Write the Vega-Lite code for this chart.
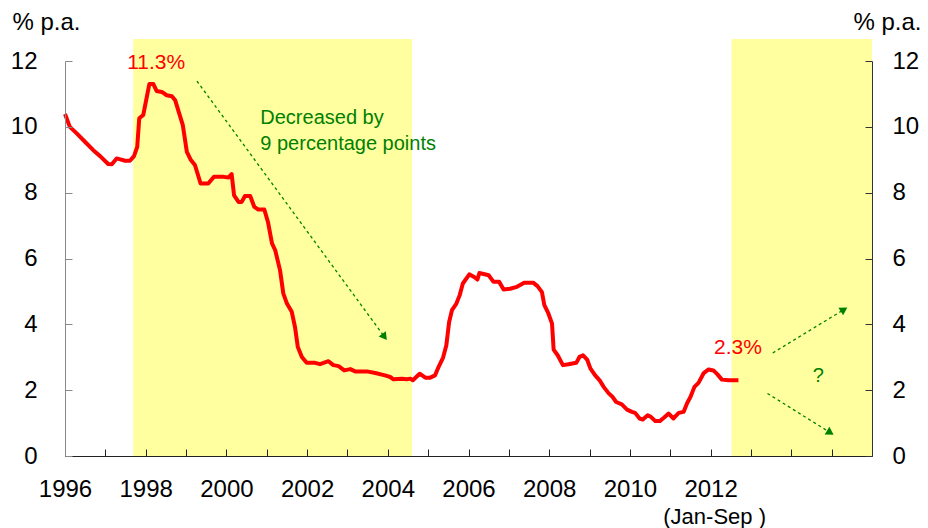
{
  "$schema": "https://vega.github.io/schema/vega-lite/v6.json",
  "width": 807,
  "height": 395,
  "autosize": "none",
  "padding": {"left": 65, "top": 61, "right": 56, "bottom": 72},
  "background": "white",
  "config": {
    "view": {"stroke": null},
    "font": "Liberation Sans",
    "axis": {"labelFont": "Liberation Sans", "titleFont": "Liberation Sans"}
  },
  "datasets": {
    "rates": [
      {"year": 1996.0, "rate": 10.39}, {"year": 1996.12, "rate": 10.0}, {"year": 1996.29, "rate": 9.8}, {"year": 1996.5, "rate": 9.54},
      {"year": 1996.7, "rate": 9.29}, {"year": 1996.87, "rate": 9.11}, {"year": 1997.07, "rate": 8.87}, {"year": 1997.16, "rate": 8.86},
      {"year": 1997.28, "rate": 9.04}, {"year": 1997.49, "rate": 8.97}, {"year": 1997.61, "rate": 8.97}, {"year": 1997.71, "rate": 9.11},
      {"year": 1997.79, "rate": 9.39}, {"year": 1997.84, "rate": 10.26}, {"year": 1997.94, "rate": 10.36}, {"year": 1998.09, "rate": 11.3},
      {"year": 1998.19, "rate": 11.3}, {"year": 1998.27, "rate": 11.09}, {"year": 1998.4, "rate": 11.06}, {"year": 1998.52, "rate": 10.96},
      {"year": 1998.65, "rate": 10.93}, {"year": 1998.73, "rate": 10.81}, {"year": 1998.83, "rate": 10.41}, {"year": 1998.92, "rate": 10.05},
      {"year": 1999.02, "rate": 9.24}, {"year": 1999.12, "rate": 8.99}, {"year": 1999.22, "rate": 8.84}, {"year": 1999.36, "rate": 8.28},
      {"year": 1999.55, "rate": 8.28}, {"year": 1999.69, "rate": 8.48}, {"year": 1999.93, "rate": 8.48}, {"year": 2000.05, "rate": 8.46},
      {"year": 2000.13, "rate": 8.56}, {"year": 2000.19, "rate": 7.92}, {"year": 2000.3, "rate": 7.72}, {"year": 2000.38, "rate": 7.72},
      {"year": 2000.46, "rate": 7.9}, {"year": 2000.59, "rate": 7.9}, {"year": 2000.69, "rate": 7.57}, {"year": 2000.79, "rate": 7.49},
      {"year": 2000.94, "rate": 7.49}, {"year": 2001.03, "rate": 7.11}, {"year": 2001.13, "rate": 6.46}, {"year": 2001.21, "rate": 6.25},
      {"year": 2001.33, "rate": 5.64}, {"year": 2001.41, "rate": 4.94}, {"year": 2001.5, "rate": 4.63}, {"year": 2001.62, "rate": 4.38},
      {"year": 2001.7, "rate": 3.92}, {"year": 2001.77, "rate": 3.31}, {"year": 2001.87, "rate": 3.01}, {"year": 2001.99, "rate": 2.83},
      {"year": 2002.2, "rate": 2.83}, {"year": 2002.32, "rate": 2.79}, {"year": 2002.53, "rate": 2.88}, {"year": 2002.65, "rate": 2.76},
      {"year": 2002.78, "rate": 2.73}, {"year": 2002.92, "rate": 2.6}, {"year": 2003.07, "rate": 2.64}, {"year": 2003.19, "rate": 2.57},
      {"year": 2003.48, "rate": 2.57}, {"year": 2003.69, "rate": 2.52}, {"year": 2003.93, "rate": 2.45}, {"year": 2004.06, "rate": 2.4},
      {"year": 2004.14, "rate": 2.33}, {"year": 2004.35, "rate": 2.35}, {"year": 2004.47, "rate": 2.33}, {"year": 2004.56, "rate": 2.35},
      {"year": 2004.62, "rate": 2.3}, {"year": 2004.79, "rate": 2.5}, {"year": 2004.93, "rate": 2.38}, {"year": 2005.05, "rate": 2.38},
      {"year": 2005.17, "rate": 2.45}, {"year": 2005.26, "rate": 2.71}, {"year": 2005.37, "rate": 2.99}, {"year": 2005.45, "rate": 3.36},
      {"year": 2005.52, "rate": 4.07}, {"year": 2005.59, "rate": 4.43}, {"year": 2005.7, "rate": 4.63}, {"year": 2005.78, "rate": 4.88},
      {"year": 2005.86, "rate": 5.24}, {"year": 2006.02, "rate": 5.52}, {"year": 2006.14, "rate": 5.44}, {"year": 2006.22, "rate": 5.36},
      {"year": 2006.27, "rate": 5.56}, {"year": 2006.5, "rate": 5.49}, {"year": 2006.62, "rate": 5.29}, {"year": 2006.76, "rate": 5.29},
      {"year": 2006.87, "rate": 5.06}, {"year": 2007.03, "rate": 5.08}, {"year": 2007.2, "rate": 5.14}, {"year": 2007.38, "rate": 5.26},
      {"year": 2007.61, "rate": 5.26}, {"year": 2007.71, "rate": 5.16}, {"year": 2007.82, "rate": 4.98}, {"year": 2007.88, "rate": 4.58},
      {"year": 2007.98, "rate": 4.33}, {"year": 2008.07, "rate": 4.02}, {"year": 2008.11, "rate": 3.23}, {"year": 2008.21, "rate": 3.06},
      {"year": 2008.34, "rate": 2.76}, {"year": 2008.48, "rate": 2.79}, {"year": 2008.67, "rate": 2.83}, {"year": 2008.75, "rate": 3.01},
      {"year": 2008.84, "rate": 3.06}, {"year": 2008.94, "rate": 2.93}, {"year": 2009.02, "rate": 2.66}, {"year": 2009.14, "rate": 2.45},
      {"year": 2009.25, "rate": 2.3}, {"year": 2009.35, "rate": 2.1}, {"year": 2009.47, "rate": 1.91}, {"year": 2009.56, "rate": 1.81},
      {"year": 2009.66, "rate": 1.64}, {"year": 2009.8, "rate": 1.57}, {"year": 2009.93, "rate": 1.41}, {"year": 2010.05, "rate": 1.34},
      {"year": 2010.13, "rate": 1.31}, {"year": 2010.24, "rate": 1.14}, {"year": 2010.32, "rate": 1.11}, {"year": 2010.44, "rate": 1.24},
      {"year": 2010.52, "rate": 1.19}, {"year": 2010.63, "rate": 1.06}, {"year": 2010.74, "rate": 1.06}, {"year": 2010.85, "rate": 1.17},
      {"year": 2010.96, "rate": 1.29}, {"year": 2011.08, "rate": 1.14}, {"year": 2011.21, "rate": 1.31}, {"year": 2011.33, "rate": 1.34},
      {"year": 2011.42, "rate": 1.61}, {"year": 2011.5, "rate": 1.79}, {"year": 2011.6, "rate": 2.1}, {"year": 2011.7, "rate": 2.22},
      {"year": 2011.83, "rate": 2.52}, {"year": 2011.95, "rate": 2.63}, {"year": 2012.07, "rate": 2.6}, {"year": 2012.17, "rate": 2.48},
      {"year": 2012.28, "rate": 2.32}, {"year": 2012.45, "rate": 2.3}, {"year": 2012.69, "rate": 2.3}
    ],
    "periods": [
      {"start": 1997.69, "end": 2004.6},
      {"start": 2012.52, "end": 2016}
    ],
    "arrows": [
      {"id": 1, "x1": 1999.27, "y1": 11.39, "x2": 2003.9, "y2": 3.65},
      {"id": 2, "x1": 2013.54, "y1": 3.13, "x2": 2015.28, "y2": 4.43},
      {"id": 3, "x1": 2013.41, "y1": 1.9, "x2": 2014.94, "y2": 0.73}
    ],
    "redNotes": [
      {"label": "11.3%", "x": 1998.26, "y": 11.94},
      {"label": "2.3%", "x": 2012.68, "y": 3.28}
    ],
    "greenNotes": [
      {"label": "Decreased by", "x": 2000.84, "y": 10.08},
      {"label": "9 percentage points", "x": 2000.84, "y": 9.31}
    ],
    "question": [
      {"label": "?", "x": 2014.67, "y": 2.44}
    ],
    "period": [
      {"label": "(Jan-Sep )", "x": 2012.1, "y": -1.86}
    ]
  },
  "layer": [
    {
      "data": {"name": "periods"},
      "mark": {"type": "rect", "color": "#FFFFA0"},
      "encoding": {
        "x": {
          "field": "start", "type": "quantitative", "title": null,
          "scale": {"domain": [1996, 2016], "nice": false, "zero": false},
          "axis": {
            "values": [1996, 1997, 1998, 1999, 2000, 2001, 2002, 2003, 2004, 2005, 2006, 2007, 2008, 2009, 2010, 2011, 2012, 2013, 2014, 2015, 2016],
            "format": "d", "labelExpr": "datum.value % 2 == 0 && datum.value <= 2012 ? datum.label : ''",
            "tickSize": -7, "labelPadding": 28, "labelFlush": false, "labelOverlap": false,
            "labelFontSize": 24, "labelColor": "#000", "domainColor": "#222", "tickColor": "#222",
            "grid": false, "title": null, "zindex": 1
          }
        },
        "x2": {"field": "end"},
        "y": {
          "datum": 0, "type": "quantitative",
          "scale": {"domain": [0, 12], "nice": false},
          "axis": {
            "orient": "right", "values": [0, 2, 4, 6, 8, 10, 12], "format": "d",
            "tickSize": -7, "labelPadding": 27, "labelFontSize": 24, "labelColor": "#000",
            "domainColor": "#333", "tickColor": "#333", "grid": false, "zindex": 1,
            "title": "% p.a.", "titleAngle": 0, "titleAlign": "left", "titleBaseline": "alphabetic",
            "titleX": -19, "titleY": -32, "titleFontSize": 24, "titleFontWeight": "normal", "titleColor": "#000"
          }
        },
        "y2": {"datum": 12.67}
      }
    },
    {
      "data": {"name": "rates"},
      "mark": {"type": "line", "color": "#FF0000", "strokeWidth": 4, "strokeJoin": "round"},
      "encoding": {
        "x": {"field": "year", "type": "quantitative", "title": null},
        "y": {
          "field": "rate", "type": "quantitative",
          "axis": {
            "orient": "left", "values": [0, 2, 4, 6, 8, 10, 12], "format": "d",
            "tickSize": -7, "labelPadding": 35, "labelFontSize": 24, "labelColor": "#000",
            "domainColor": "#888", "tickColor": "#888", "grid": false, "zindex": 1,
            "title": "% p.a.", "titleAngle": 0, "titleAlign": "left", "titleBaseline": "alphabetic",
            "titleX": -53, "titleY": -32, "titleFontSize": 24, "titleFontWeight": "normal", "titleColor": "#000"
          }
        }
      }
    },
    {
      "data": {"name": "arrows"},
      "mark": {"type": "rule", "color": "#008000", "strokeWidth": 1.3, "strokeDash": [3, 3]},
      "encoding": {
        "x": {"field": "x1", "type": "quantitative", "title": null},
        "y": {"field": "y1", "type": "quantitative", "axis": null},
        "x2": {"field": "x2"},
        "y2": {"field": "y2"}
      }
    },
    {
      "data": {"name": "arrows"},
      "transform": [{"filter": "datum.id == 1"}],
      "mark": {"type": "point", "shape": "triangle", "filled": true, "color": "#008000", "opacity": 1, "size": 80, "angle": 143.7},
      "encoding": {
        "x": {"field": "x2", "type": "quantitative", "title": null},
        "y": {"field": "y2", "type": "quantitative", "axis": null}
      }
    },
    {
      "data": {"name": "arrows"},
      "transform": [{"filter": "datum.id == 2"}],
      "mark": {"type": "point", "shape": "triangle", "filled": true, "color": "#008000", "opacity": 1, "size": 80, "angle": 58.5},
      "encoding": {
        "x": {"field": "x2", "type": "quantitative", "title": null},
        "y": {"field": "y2", "type": "quantitative", "axis": null}
      }
    },
    {
      "data": {"name": "arrows"},
      "transform": [{"filter": "datum.id == 3"}],
      "mark": {"type": "point", "shape": "triangle", "filled": true, "color": "#008000", "opacity": 1, "size": 80, "angle": 122},
      "encoding": {
        "x": {"field": "x2", "type": "quantitative", "title": null},
        "y": {"field": "y2", "type": "quantitative", "axis": null}
      }
    },
    {
      "data": {"name": "redNotes"},
      "mark": {"type": "text", "color": "#FF0000", "fontSize": 21, "align": "center", "baseline": "middle", "font": "Liberation Sans"},
      "encoding": {
        "x": {"field": "x", "type": "quantitative", "title": null},
        "y": {"field": "y", "type": "quantitative", "axis": null},
        "text": {"field": "label"}
      }
    },
    {
      "data": {"name": "greenNotes"},
      "mark": {"type": "text", "color": "#008000", "fontSize": 20, "align": "left", "baseline": "alphabetic", "font": "Liberation Sans"},
      "encoding": {
        "x": {"field": "x", "type": "quantitative", "title": null},
        "y": {"field": "y", "type": "quantitative", "axis": null},
        "text": {"field": "label"}
      }
    },
    {
      "data": {"name": "question"},
      "mark": {"type": "text", "color": "#008000", "fontSize": 20, "align": "center", "baseline": "middle", "font": "Liberation Sans"},
      "encoding": {
        "x": {"field": "x", "type": "quantitative", "title": null},
        "y": {"field": "y", "type": "quantitative", "axis": null},
        "text": {"field": "label"}
      }
    },
    {
      "data": {"name": "period"},
      "mark": {"type": "text", "color": "#000000", "fontSize": 22, "align": "center", "baseline": "middle", "font": "Liberation Sans"},
      "encoding": {
        "x": {"field": "x", "type": "quantitative", "title": null},
        "y": {"field": "y", "type": "quantitative", "axis": null},
        "text": {"field": "label"}
      }
    }
  ],
  "resolve": {"scale": {"y": "shared"}, "axis": {"y": "independent"}}
}
